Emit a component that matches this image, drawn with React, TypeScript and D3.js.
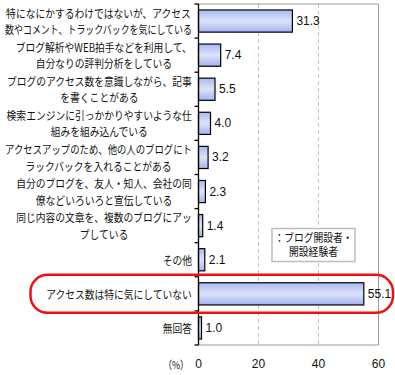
import React, { useEffect, useRef } from "react";
import * as d3 from "d3";

// answer labels (line breaks as in the original)
const labels: string[][] = [
  ["特になにかするわけではないが、アクセス", "数やコメント、トラックバックを気にしている"],
  ["ブログ解析やWEB拍手などを利用して、", "自分なりの評判分析をしている"],
  ["ブログのアクセス数を意識しながら、記事", "を書くことがある"],
  ["検索エンジンに引っかかりやすいような仕", "組みを組み込んでいる"],
  ["アクセスアップのため、他の人のブログにト", "ラックバックを入れることがある"],
  ["自分のブログを、友人・知人、会社の同", "僚などいろいろと宣伝している"],
  ["同じ内容の文章を、複数のブログにアッ", "プしている"],
  ["その他"],
  ["アクセス数は特に気にしていない"],
  ["無回答"],
];
const values = [31.3, 7.4, 5.5, 4.0, 3.2, 2.3, 1.4, 2.1, 55.1, 1.0];
const xTicks = [0, 20, 40, 60];
const legendLines = ["：ブログ開設者・", "開設経験者"];
const highlighted = 8;

const W = 395, H = 375;
const jpFont = "'Noto Sans CJK JP', sans-serif";
const numFont = "'Liberation Sans', Arial, sans-serif";
const squeeze = 0.85; // the original uses a narrow bitmap face

// draws centered lines of squeezed text around (cx, cy), anchored at the right edge if given
function textBlock(parent: d3.Selection<any, any, any, any>, lines: string[], cy: number,
  opts: { right?: number; cx?: number; gap: number; maxW?: number }) {
  const g = parent.append("g");
  const texts = g.selectAll("text").data(lines).join("text")
    .attr("x", 0).attr("y", 0)
    .attr("text-anchor", "middle").attr("dominant-baseline", "central")
    .attr("font-family", jpFont).attr("font-size", 11.5).attr("fill", "#111")
    .text(d => d);
  const natural: number[] = [];
  texts.each(function () { natural.push((this as SVGTextElement).getComputedTextLength()); });
  const sx = natural.map(w => Math.min(squeeze, (opts.maxW ?? 999) / w));
  const maxW = d3.max(natural.map((w, k) => w * sx[k])) || 0;
  const cx = opts.cx ?? (opts.right! - maxW / 2);
  texts.attr("transform", (d, k) =>
    `translate(${cx},${cy + (k - (lines.length - 1) / 2) * opts.gap}) scale(${sx[k]},1)`);
}

export default function App() {
  const ref = useRef<SVGSVGElement>(null);

  useEffect(() => {
    const svg = d3.select(ref.current);
    svg.selectAll("*").remove();

    const x = d3.scaleLinear().domain([0, 60]).range([198.5, 378.5]);
    const y = d3.scaleBand<number>().domain(d3.range(values.length)).range([4, 345])
      .paddingInner(0.35).paddingOuter(0.175);
    const [top, bottom] = y.range();

    const grad = svg.append("defs").append("linearGradient")
      .attr("id", "barGrad").attr("x1", 0).attr("y1", 0).attr("x2", 0).attr("y2", 1);
    grad.append("stop").attr("offset", "0%").attr("stop-color", "#a9b9f2");
    grad.append("stop").attr("offset", "50%").attr("stop-color", "#dbe3fa");
    grad.append("stop").attr("offset", "100%").attr("stop-color", "#a3b3ef");

    // grid
    svg.append("g").selectAll("line").data([20, 40]).join("line")
      .attr("x1", d => x(d)).attr("x2", d => x(d)).attr("y1", top).attr("y2", bottom)
      .attr("stroke", "#c4c4c4").attr("stroke-dasharray", "4,3");

    // frame
    svg.append("path")
      .attr("d", `M${x(0)},${top}H${x(60)}V${bottom}H${x(0)}`)
      .attr("fill", "none").attr("stroke", "#9a9a9a");

    // bars
    svg.append("g").selectAll("rect").data(values).join("rect")
      .attr("x", x(0)).attr("y", (d, i) => y(i)!)
      .attr("width", d => x(d) - x(0)).attr("height", y.bandwidth())
      .attr("fill", "url(#barGrad)").attr("stroke", "#000").attr("stroke-width", 1.2);

    // left axis with ticks at band boundaries
    const step = y.step();
    svg.append("line").attr("x1", x(0)).attr("x2", x(0)).attr("y1", top).attr("y2", bottom)
      .attr("stroke", "#000").attr("stroke-width", 1.3);
    svg.append("g").selectAll("line").data(d3.range(values.length + 1)).join("line")
      .attr("x1", x(0) - 4).attr("x2", x(0))
      .attr("y1", i => top + i * step).attr("y2", i => top + i * step)
      .attr("stroke", "#000").attr("stroke-width", 1.3);

    // value labels
    svg.append("g").selectAll("text").data(values).join("text")
      .attr("x", d => x(d) + 4).attr("y", (d, i) => y(i)! + y.bandwidth() / 2)
      .attr("dominant-baseline", "central")
      .attr("font-family", numFont).attr("font-size", 12).attr("fill", "#111")
      .text(d => d.toFixed(1));

    // x tick labels
    svg.append("g").selectAll("text").data(xTicks).join("text")
      .attr("x", d => x(d)).attr("y", 364).attr("text-anchor", "middle")
      .attr("dominant-baseline", "central")
      .attr("font-family", numFont).attr("font-size", 12).attr("fill", "#111")
      .text(d => d);
    svg.append("text").attr("x", 0).attr("y", 0).attr("text-anchor", "middle")
      .attr("dominant-baseline", "central")
      .attr("font-family", jpFont).attr("font-size", 11).attr("fill", "#111")
      .attr("transform", "translate(176,364) scale(0.8,1)")
      .text("（%）");

    // category labels: lines centered on the widest one, block right aligned
    labels.forEach((lines, i) => {
      textBlock(svg, lines, y(i)! + y.bandwidth() / 2, { right: 192, gap: 16.6, maxW: 187 });
    });

    // legend box, both lines in one text element
    svg.append("rect").attr("x", 272).attr("y", 228.5).attr("width", 83).attr("height", 33)
      .attr("fill", "#fff").attr("stroke", "#bdbdbd").attr("stroke-width", 1.5);
    svg.append("text")
      .attr("transform", `translate(313.5,242) scale(${squeeze},1)`)
      .attr("text-anchor", "middle")
      .attr("font-family", jpFont).attr("font-size", 11.5).attr("fill", "#111")
      .selectAll("tspan").data(legendLines).join("tspan")
      .attr("x", 0).attr("dy", (d, k) => (k === 0 ? 0 : 13.8))
      .text(d => d);

    // red highlight around the "not interested" row
    const hy = y(highlighted)! + y.bandwidth() / 2;
    svg.append("rect").attr("x", 30.5).attr("y", hy - 19).attr("width", 362.5).attr("height", 38)
      .attr("rx", 17).attr("fill", "none").attr("stroke", "#f01010").attr("stroke-width", 2.5);
  }, []);

  return (
    <svg ref={ref} width={W} height={H}
      style={{ position: "absolute", left: 0, top: 0, background: "#fff" }} />
  );
}
